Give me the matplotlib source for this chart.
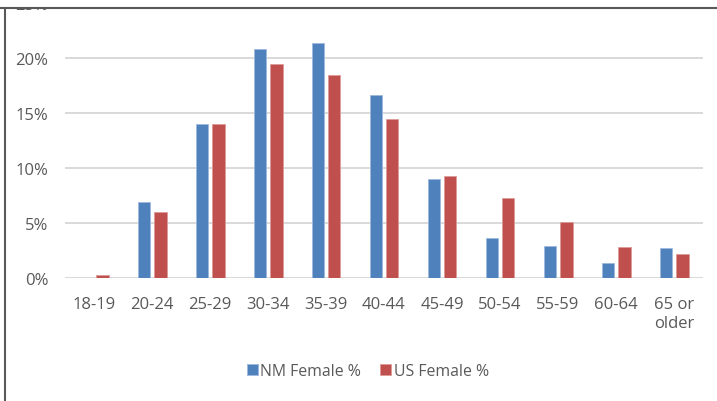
import numpy as np
import matplotlib
matplotlib.use("Agg")
import matplotlib.pyplot as plt
from matplotlib.ticker import PercentFormatter
from matplotlib.patches import Rectangle
from matplotlib.lines import Line2D

plt.rcParams['font.family'] = ['Open Sans', 'DejaVu Sans']

age_groups = ['18-19', '20-24', '25-29', '30-34', '35-39', '40-44',
              '45-49', '50-54', '55-59', '60-64', '65 or\nolder']
nm_female = [0.0, 6.9, 14.0, 20.8, 21.4, 16.6, 9.0, 3.65, 2.95, 1.35, 2.7]
us_female = [0.3, 6.0, 14.0, 19.5, 18.45, 14.5, 9.25, 7.25, 5.1, 2.85, 2.15]
y_ticks = [0, 5, 10, 15, 20, 25]

W, H = 717, 402
fig = plt.figure(figsize=(W / 100, H / 100), dpi=100)
ax = fig.add_axes([65 / W, 1 - 279 / H, (703 - 65) / W, (279 - 4) / H])

x = np.arange(len(age_groups))
bw = 0.22
off = 0.14
ax.bar(x - off, nm_female, bw, color='#4F81BD', edgecolor='#9DB9DC', linewidth=0.6,
       label='NM Female %', zorder=3)
ax.bar(x + off, us_female, bw, color='#C0504D', edgecolor='#DC9A98', linewidth=0.6,
       label='US Female %', zorder=3)

ax.set_xlim(-0.5, len(age_groups) - 0.5)
ax.set_ylim(0, 25)
ax.set_yticks(y_ticks)
ax.yaxis.set_major_formatter(PercentFormatter(decimals=0))
ax.set_xticks(x)
ax.set_xticklabels(age_groups, linespacing=1.25, va='top')
ax.grid(axis='y', color='#D9D9D9', linewidth=1.4, zorder=0)
ax.tick_params(axis='both', length=0, labelsize=12, labelcolor='#595959')
ax.tick_params(axis='y', pad=12)
ax.tick_params(axis='x', pad=13)
for s in ax.spines.values():
    s.set_visible(False)

leg = fig.legend(loc='center', bbox_to_anchor=(368 / W, 1 - 372 / H), ncol=2,
                 frameon=False, fontsize=11.4, handlelength=0.7, handleheight=0.7,
                 handletextpad=0.15, columnspacing=1.2, labelcolor='#595959')

# screenshot frame: white strip and dark line at top, dark line at left
fig.patches.append(Rectangle((0, 1 - 8 / H), 1, 8 / H, transform=fig.transFigure,
                             facecolor='white', edgecolor='none', zorder=10))
fig.lines.append(Line2D([0, 1], [1 - 9 / H, 1 - 9 / H], transform=fig.transFigure,
                        color='#595959', linewidth=1.5, zorder=11))
fig.lines.append(Line2D([4.5 / W, 4.5 / W], [0, 1 - 9 / H], transform=fig.transFigure,
                        color='#595959', linewidth=1.5, zorder=11))

fig.savefig('out.png', dpi=100)
